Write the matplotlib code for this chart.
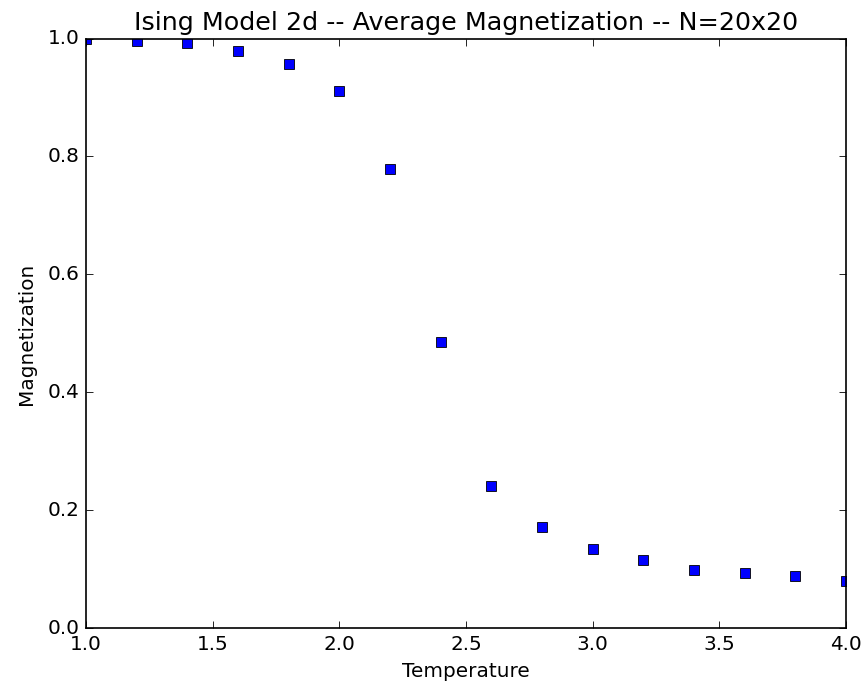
import matplotlib
matplotlib.use("Agg")
import matplotlib.pyplot as plt

temperature = [1.0, 1.2, 1.4, 1.6, 1.8, 2.0, 2.2, 2.4, 2.6, 2.8, 3.0, 3.2, 3.4, 3.6, 3.8, 4.0]
magnetization = [1.0, 0.996, 0.992, 0.979, 0.956, 0.911, 0.779, 0.485,
                 0.241, 0.171, 0.135, 0.116, 0.099, 0.093, 0.089, 0.081]

plt.style.use("classic")
plt.rcParams["font.family"] = ["DejaVu Sans"]

fig = plt.figure(figsize=(866 / 120, 690 / 120), dpi=120, facecolor="white")
ax = fig.add_axes([0.0993, 0.0894, 0.8777, 0.8548])

ax.plot(temperature, magnetization, "bs")
ax.set_xlim(1.0, 4.0)
ax.set_ylim(0.0, 1.0)
ax.set_xlabel("Temperature")
ax.set_ylabel("Magnetization", labelpad=7)
ax.set_title("Ising Model 2d -- Average Magnetization -- N=20x20", fontsize=15.2)

fig.savefig("out.png", dpi=120, facecolor="white")
